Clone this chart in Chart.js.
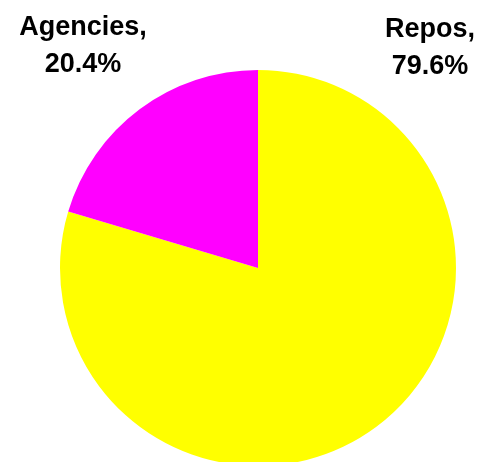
<!DOCTYPE html>
<html>
<head>
<meta charset="utf-8">
<script src="https://cdn.jsdelivr.net/npm/chart.js@4"></script>
<style>
  html, body { margin: 0; padding: 0; background: #fff; overflow: hidden; }
  canvas { display: block; }
</style>
</head>
<body>
<canvas id="pie" width="478" height="480"></canvas>
<script>
const categories = ['Repos', 'Agencies'];
const shares = [79.6, 20.4];
const colors = ['#ffff00', '#ff00ff'];

// labels sit in the top corners, one per slice
const cornerLabels = {
    id: 'cornerLabels',
    afterDraw(chart) {
        const c = chart.ctx;
        const spots = [{ x: 430, y: 37 }, { x: 83, y: 35 }];
        c.save();
        c.font = 'bold 27px "Liberation Sans", Arial, sans-serif';
        c.fillStyle = '#000';
        c.textAlign = 'center';
        c.textBaseline = 'alphabetic';
        categories.forEach((name, i) => {
            const p = spots[i];
            c.fillText(name + ',', p.x, p.y);
            c.fillText(shares[i].toFixed(1) + '%', p.x, p.y + 37);
        });
        c.restore();
    }
};

new Chart(document.getElementById('pie').getContext('2d'), {
    type: 'pie',
    data: {
        labels: categories,
        datasets: [{
            data: shares,
            backgroundColor: colors,
            borderWidth: 0,
            hoverOffset: 0
        }]
    },
    options: {
        responsive: false,
        animation: false,
        events: [],
        layout: { padding: { top: 70, bottom: 14, left: 60, right: 22 } },
        plugins: {
            legend: { display: false },
            tooltip: { enabled: false }
        }
    },
    plugins: [cornerLabels]
});
</script>
</body>
</html>
